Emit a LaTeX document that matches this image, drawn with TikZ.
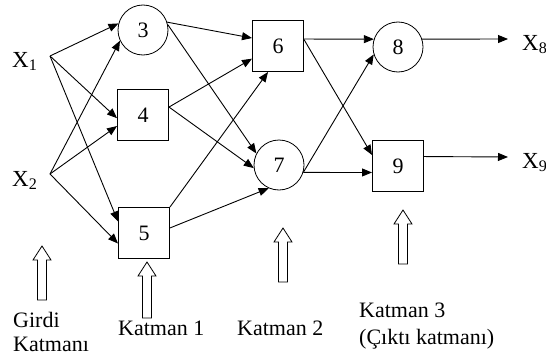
\documentclass[tikz,border=0pt]{standalone}
\usepackage{fontspec}
\setmainfont{Liberation Serif}
\usetikzlibrary{arrows.meta}

% hollow upward block arrow: x position, tip y, tail y
\newcommand\hollowup[3]{%
  \draw[blockarrow] (#1-4.5,#3) -- (#1-4.5,#2+14) -- (#1-9,#2+14) -- (#1,#2)
    -- (#1+9,#2+14) -- (#1+4.5,#2+14) -- (#1+4.5,#3) -- cycle;}

\tikzset{
  txt/.style={font=\fontsize{22}{24}\selectfont},
  neuron/.style={circle, draw, line width=0.8pt, minimum size=50pt, inner sep=0pt, txt},
  unit/.style={rectangle, draw, line width=1pt, minimum size=51pt, inner sep=0pt, txt},
  link/.style={draw, line width=0.9pt, -{Triangle[length=10pt,width=8pt]}},
  lbl/.style={txt, inner sep=0pt, anchor=base west},
  varlbl/.style={lbl, font=\fontsize{23}{24}\selectfont},
  blockarrow/.style={draw, line width=0.8pt, fill=white, line join=miter},
}

\begin{document}
\begin{tikzpicture}[x=1pt,y=-1pt]
\useasboundingbox (0,0) rectangle (546,356);

% processing units
\node[neuron] (n3) at (143,30) {3};
\node[unit]   (n4) at (143,115) {4};
\node[unit]   (n5) at (144,233) {5};
\node[unit]   (n6) at (278,46) {6};
\node[neuron] (n7) at (279,165) {7};
\node[neuron] (n8) at (398,47) {8};
\node[unit]   (n9) at (398,166) {9};

% inputs
\node[varlbl] (x1) at (12,67) {X\textsubscript{1}};
\coordinate (i1) at (50,56);
\node[varlbl] (x2) at (12,186) {X\textsubscript{2}};
\coordinate (i2) at (50,174);

% outputs
\coordinate (o8) at (508,39);
\node[varlbl] (x8) at (522,50) {X\textsubscript{8}};
\coordinate (o9) at (508,157);
\node[varlbl] (x9) at (522,168) {X\textsubscript{9}};

% input layer -> layer 1
\draw[link] (i1) -- (n3.165);
\draw[link] (i1) -- (n4.187);
\draw[link] (i1) -- (n5.156);
\draw[link] (i2) -- (n3.205);
\draw[link] (i2) -- (n4.203);
\draw[link] (i2) -- (n5.202);

% layer 1 -> layer 2
\draw[link] (n3.18) -- (n6.163);
\draw[link] (n3.12) -- (n7.153);
\draw[link] (n4.17) -- (n6.206);
\draw[link] (n4.17) -- (n7.187);
\draw[link] (n5.north east) -- (n6.249);
\draw[link] (n5.11) -- (n7.246);

% layer 2 -> layer 3
\draw[link] (n6.15) -- (n8.162);
\draw[link] (n6.14) -- (n9.157);
\draw[link] (n7.343) -- (n8.197);
\draw[link] (n7.343) -- (n9.194);

% layer 3 -> outputs
\draw[link] (n8.18) -- (o8);
\draw[link] (n9.20) -- (o9);

% layer pointers
\hollowup{42}{246}{300}
\hollowup{147}{262}{318}
\hollowup{283}{228}{282}
\hollowup{403}{210}{264}

% layer captions
\node[lbl] (girdi)  at (13,327) {Girdi};
\node[lbl] (girdi2) at (13,351) {Katmanı};
\node[lbl] (k1)     at (118,335) {Katman 1};
\node[lbl] (k2)     at (237,335) {Katman 2};
\node[lbl] (k3)     at (359,317) {Katman 3};
\node[lbl] (k3b)    at (359,344) {(Çıktı katmanı)};
\end{tikzpicture}
\end{document}
